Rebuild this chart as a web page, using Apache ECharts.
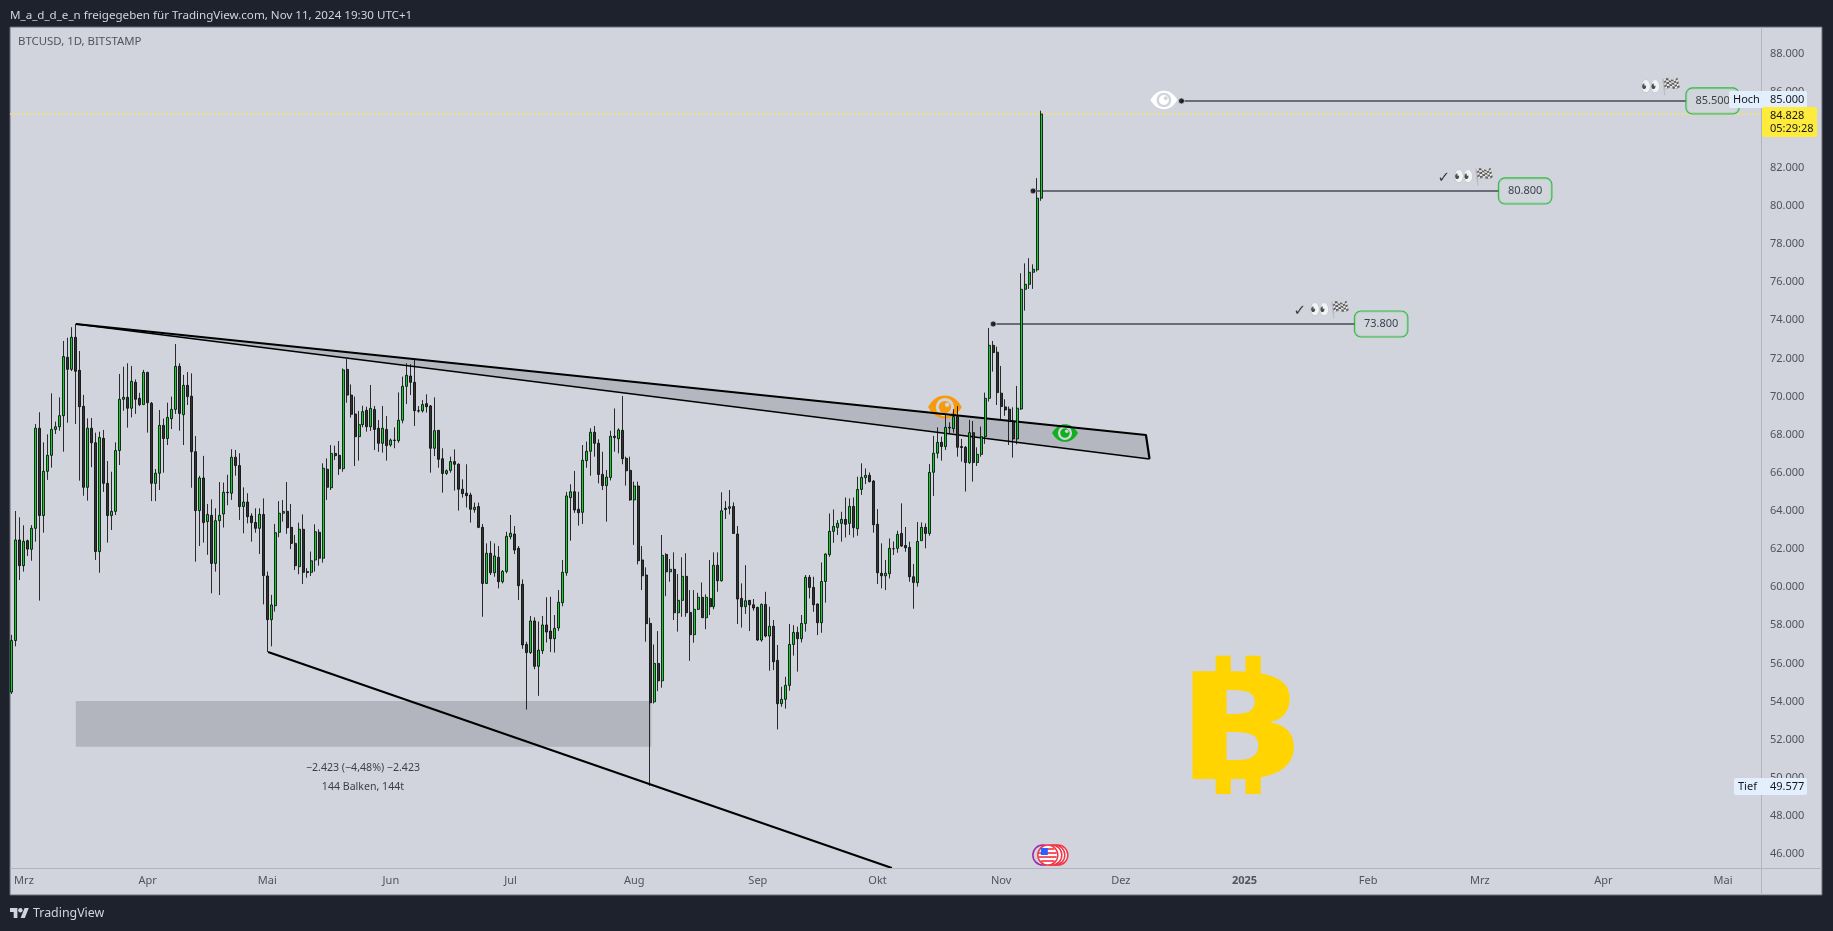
<!DOCTYPE html>
<html><head><meta charset="utf-8">
<style>html,body{margin:0;padding:0;background:#1e222d;overflow:hidden}#c{width:1833px;height:931px}</style>
<script src="https://cdn.jsdelivr.net/npm/echarts@6/dist/echarts.min.js"></script>
</head><body><div id="c"></div>
<script>
// Daily candles, 27 Feb 2024 .. 11 Nov 2024 (USD)
const opens = [54500,57200,62480,61130,62440,61990,63090,68340,63760,66080,66920,68280,68420,69000,72060,71430,73110,71380,69490,65240,68340,67580,61870,67810,65450,63760,63980,67170,69860,69960,69390,70750,69910,69580,
71270,69650,65450,65980,68490,67800,68840,69330,71590,69050,70590,70020,67110,64020,65730,63440,63770,61250,63490,63840,64980,64930,66820,66380,64230,64470,63740,63400,63090,63820,
60590,58300,59030,62880,63880,63980,63140,62300,61080,63040,60820,60780,61430,62880,61520,66190,65220,67020,66920,66220,71430,70080,69090,67900,68530,69280,68420,69330,68340,67550,68280,
67460,67720,67690,68760,70540,71080,70750,69260,69250,69630,69510,67290,68230,66740,65970,66130,66590,66450,65140,64930,64840,64070,64230,63140,60200,61780,60760,61570,60290,60830,
62650,62790,62040,60150,57000,56570,58230,55850,56670,58020,57700,57300,57860,59190,60760,64700,65010,64090,63930,66640,67130,68130,67550,65920,65330,65760,67920,67790,68230,66760,66130,
64580,65310,61430,60640,58100,53990,56000,55090,61720,60810,60940,58660,59310,60570,58680,57510,58840,59470,58400,59410,58980,61150,60340,64140,64140,64240,62790,59410,58980,59310,59080,
58940,57230,59100,57440,57950,56160,53890,54120,54850,57000,57630,57300,58100,60520,59990,59120,58140,60300,61710,62930,63140,63350,63560,63350,64240,63070,65130,65750,65870,65570,
63300,60730,60600,60710,62020,62040,62820,62190,62090,60550,60240,62440,63140,62820,66030,67030,67600,67380,68350,68320,68950,67380,67340,66540,68110,66540,66970,67900,69910,72690,72330,
70180,69460,69340,68690,67780,69350,75630,75890,76520,76650,80410];
const closes = [57200,62480,61130,62410,62000,63090,68340,63760,66080,66920,68280,68420,69000,72100,71430,73110,71330,69470,65240,68340,67580,61870,67860,65450,63760,63980,67170,69860,69960,69390,70800,69860,69580,71270,
69680,65450,65980,68490,67800,68910,69330,71590,69120,70590,70000,67110,64020,65730,63390,63820,61250,63490,63770,64980,64960,66820,66380,64230,64470,63700,63390,63090,63820,60610,
58300,59070,62860,63880,63970,63120,62300,61130,63040,60780,60770,61390,62910,61520,66240,65240,67020,66900,66220,71400,70080,69070,67900,68530,69210,68420,69380,68280,67550,68340,67430,
67720,67700,68760,70540,71120,70750,69260,69240,69580,69470,67290,68210,66710,65970,66110,66590,66450,65140,64910,64800,64090,64190,63140,60200,61780,60760,61640,60290,60830,62670,
62830,61950,60080,56970,56570,58230,55850,56700,58020,57650,57300,57840,59210,60780,64790,65010,64050,63910,66660,67130,68130,67550,65920,65330,65780,67920,67850,68250,66740,66110,64580,
65310,61390,60600,58090,53940,56000,55090,61670,60810,60940,58660,59310,60570,58660,57510,58840,59470,58400,59470,58980,61150,60340,64010,64080,64220,62820,59380,58980,59290,59080,58910,
57230,59100,57440,57950,56090,53890,54120,54850,57000,57630,57300,58100,60520,59990,59080,58140,60300,61740,62930,63190,63350,63560,63300,64240,63120,65130,65760,65870,65540,63280,
60760,60600,60730,62040,62020,62770,62160,62070,60550,60250,62400,63140,62820,66020,67030,67600,67380,68390,68390,68950,67340,67330,66540,68110,66540,66970,67900,69910,72690,72310,70210,
69480,69300,68690,67780,69390,75630,75890,76520,76680,80410,84828];
const lows = [54400,56900,60380,60820,61640,61390,62390,59300,62860,65630,66270,68040,68210,67110,68630,71340,68560,65590,64800,64540,66300,61430,60760,65000,62340,63000,63790,66410,69260,68370,68910,69090,69500,69580,
68110,64520,64520,65100,66010,67460,68300,69090,68210,67460,69560,65220,61340,62160,62340,61700,59680,60820,59590,63130,64300,64580,65850,63530,62830,63350,62390,62860,61740,59100,
56600,56900,58720,62620,63440,62800,62000,60900,60680,60170,60500,60590,60820,61130,61290,64580,65100,66670,65890,66060,69680,68900,66360,66640,68390,68160,68200,67200,67100,67060,66640,
67370,67290,67580,68600,69610,70080,68460,69160,69160,69160,66010,66880,66270,64960,65890,66010,65070,64020,64700,64180,63390,63910,63100,58450,60170,60640,60550,59940,60200,60730,
62510,61740,59330,56770,53580,56500,55700,54300,56500,57100,56600,56570,57700,59000,60600,62440,63900,63230,63320,66270,65850,66850,65450,65100,63440,65600,67110,67020,66450,65330,64540,
62220,61200,59850,57140,49577,53900,54550,54730,59530,60290,58280,57670,58450,58450,56140,57090,58800,58400,57800,58540,58840,59760,60290,63580,63820,62800,58070,57880,58600,57700,58770,
57190,57140,57370,55620,55650,52540,53730,53630,54570,56410,55570,57100,57670,59410,58710,57490,57610,59190,61600,62330,62740,62390,62610,62740,62610,62700,64840,65410,65500,62860,
60170,59940,59850,60460,61690,61810,62120,61860,60290,58870,60030,62440,62040,62700,64790,66760,66640,67200,68080,68110,66850,66590,65020,66470,65540,66360,66850,67520,69740,71310,69560,
68780,68990,67460,66800,67500,69300,74510,75650,75650,76560,80270];
const highs = [57500,64000,63670,63250,62500,63260,68560,69180,67600,68020,70170,68690,69960,72920,73090,73640,73810,72390,70090,68860,68880,68110,68160,68250,66620,66060,67600,71190,71570,71750,71610,70900,70200,71400,
71300,69720,66200,69300,68850,69680,70000,72760,71750,71140,71290,71220,67930,65840,66890,64370,64610,64140,65520,65490,65900,67240,67200,67030,65240,64930,63880,64140,64140,64660,
60820,59600,63320,64520,64580,65520,64370,62740,63390,63820,61000,61870,63300,63040,66500,66760,67460,67430,67670,71480,71970,70640,70000,69250,69520,69470,70610,69510,68770,69510,68980,
67800,68390,70220,71050,71750,71700,71920,69500,69820,70120,69560,69960,68250,67290,66180,66850,67230,66500,65660,66450,64960,64440,64440,63320,62300,62420,62300,62160,60900,62910,
63790,63210,62160,60410,57140,58490,58420,58200,58490,59470,59500,58540,59850,61430,65000,65400,66100,65010,67460,67640,68340,68460,67760,67110,66150,68210,69380,68340,70030,66850,66850,
65540,65540,62160,61040,58400,57000,57700,62740,61780,61480,61830,60690,61570,61780,59850,59850,59710,60250,59620,61430,61830,61830,64980,64520,65100,64450,63210,60200,61160,59330,59380,
58980,59150,59760,58980,58280,56970,54780,55300,58070,58010,57930,58540,60640,60640,60550,59150,61300,61780,63870,64080,63520,63960,64710,64660,64710,65800,66500,66230,66020,65620,
64100,62300,61430,62560,62400,62960,64400,63160,62390,61220,63420,63400,63350,66460,67940,68390,67900,69040,68650,69340,69510,67780,67410,68780,68720,67340,68430,70210,73600,72920,72620,
71610,69860,69480,69440,70560,76470,76990,77260,76940,81460,85000];

// Axis ticks and labels
const startDay = '2024-02-27';
const dayCount = 439;
const priceTicks = [46000,48000,50000,52000,54000,56000,58000,60000,62000,64000,66000,68000,70000,72000,74000,76000,78000,80000,82000,84000,86000,88000];
const monthTicks = {'2024-03-01':'Mrz','2024-04-01':'Apr','2024-05-01':'Mai','2024-06-01':'Jun','2024-07-01':'Jul','2024-08-01':'Aug','2024-09-01':'Sep','2024-10-01':'Okt','2024-11-01':'Nov','2024-12-01':'Dez','2025-01-01':'2025','2025-02-01':'Feb','2025-03-01':'Mrz','2025-04-01':'Apr','2025-05-01':'Mai'};

// Drawings, as [bar index, price]
const wedgeBand = [[16,73810],[284.3,67985],[285.2,66730]];
const wedgeLower = [[16,73810],[285.2,66730]];
const wedgeUpper = [[16,73810],[284.3,67985],[285.2,66730]];
const supportLine = [[64.2,56600],[220.6,45270]];
const measureBox = [[16,54030],[160.3,51630]];
const targets = [
  {label:'85.500', price:85510, from:293.2, to:419.8, marks:'{e|👀}{f|🏁}'},
  {label:'80.800', price:80790, from:256, to:372.8, marks:'{c|✓}{e|👀}{f|🏁}'},
  {label:'73.800', price:73810, from:246, to:336.7, marks:'{c|✓}{e|👀}{f|🏁}'}
];
const eyes = [[288.8,85560,'#ffffff'],[233.9,69450,'#f89a0e'],[264,68090,'#10b01e']];
const lastPrice = 84828;
const btcAnchor = [307,51980];
const measureLabels = [[88,50510,'−2.423 (−4,48%) −2.423'],[88,49520,'144 Balken, 144t']];
const eventAnchor = [259.7,45950];

const categories = [];
{ let d = new Date(startDay+'T00:00:00Z');
  for (let i=0;i<dayCount;i++){ categories.push(d.toISOString().slice(0,10)); d = new Date(d.getTime()+864e5); } }
const candles = opens.map((o,i)=>[o,closes[i],lows[i],highs[i]]);

const PANE='#d1d4dc', DARK='#1e222d', AXIS='#b2b5be', TXT='#50535e', INK='#131722';
const FONT='"Noto Sans", sans-serif';
const EYE='M0 10 C 6 2.5 13 0 20 0 C 27 0 34 2.5 40 10 C 34 17.5 27 20 20 20 C 13 20 6 17.5 0 10 Z';

function eyeItem(params,api){
  const p=api.coord([api.value(0),api.value(1)]);
  const c=eyes[params.dataIndex][2];
  const big=params.dataIndex===1?1.25:1;
  const w=(params.dataIndex===2?26:27)*big,h=w*0.68,[x,y]=p;
  return {type:'group',children:[
    {type:'path',shape:{pathData:EYE,x:x-w/2,y:y-h/2,width:w,height:h,layout:'cover'},style:{fill:c}},
    {type:'circle',shape:{cx:x,cy:y,r:h*0.4},style:{fill:PANE}},
    {type:'circle',shape:{cx:x,cy:y,r:h*0.27},style:{fill:c}},
    {type:'circle',shape:{cx:x+h*0.1,cy:y-h*0.1,r:h*0.1},style:{fill:PANE}}
  ]};
}
function eventItem(params,api){
  const [x,y]=api.coord(eventAnchor);
  const r=10,kids=[];
  kids.push({type:'circle',shape:{cx:x-5,cy:y,r},style:{fill:PANE,stroke:'#9c27b0',lineWidth:1.5}});
  [10,7,4].forEach(dx=>kids.push({type:'circle',shape:{cx:x+dx,cy:y,r},style:{fill:'#ffffff',stroke:'#f23645',lineWidth:1.5}}));
  kids.push({type:'circle',shape:{cx:x,cy:y,r:r},style:{fill:'#ffffff',stroke:'#f23645',lineWidth:1.5}});
  [-6,-2,2,6].forEach(dy=>{const hw=Math.sqrt(Math.max(0,(r-1)*(r-1)-dy*dy));
    kids.push({type:'rect',shape:{x:x-hw,y:y+dy-1,width:hw*2,height:2},style:{fill:'#f7525f'}});});
  kids.push({type:'rect',shape:{x:x-7,y:y-7,width:7,height:7},style:{fill:'#2962ff'}});
  return {type:'group',children:kids};
}
function polyItem(params,api){
  const pts=wedgeBand.map(p=>api.coord(p));
  return {type:'polygon',shape:{points:pts},style:{fill:'#b2b5be',opacity:.95}};
}
function boxItem(params,api){
  const a=api.coord(measureBox[0]),b=api.coord(measureBox[1]);
  return {type:'rect',shape:{x:a[0],y:a[1],width:b[0]-a[0],height:b[1]-a[1]},style:{fill:'#b2b5be'}};
}
function btcItem(params,api){
  const [x,y]=api.coord(btcAnchor);
  return {type:'text',x,y,originX:0,originY:0,scaleX:1.5,scaleY:1.0,
    style:{text:'₿',font:'bold 150px "DejaVu Sans", "Noto Sans", sans-serif',fill:'#ffd400',align:'center',verticalAlign:'middle'}};
}
const oneItem=(name,renderItem,z,clip)=>({type:'custom',name,xAxisIndex:1,yAxisIndex:0,z,clip:!!clip,renderItem,data:[[0,60000]],encode:{x:0,y:1},silent:true,animation:false});

const series=[
  oneItem('Messbereich',boxItem,1,true),
  oneItem('Keil',polyItem,1,true),
  {type:'line',name:'Letzter Kurs',xAxisIndex:1,data:[[-0.5,lastPrice],[438.5,lastPrice]],symbol:'none',z:1,silent:true,lineStyle:{color:'#ffeb3b',width:1.4,type:[1.5,2.5]}},
  {type:'candlestick',name:'BTCUSD',xAxisIndex:0,yAxisIndex:0,data:candles,barWidth:2.5,z:3,
    itemStyle:{color:'#0ed12e',color0:'#333333',borderColor:'#000000',borderColor0:'#000000',borderColorDoji:'#000000',borderWidth:0.8}},
  {type:'line',name:'Keil oben',xAxisIndex:1,data:wedgeUpper,symbol:'none',z:2,silent:true,lineStyle:{color:'#000',width:2.2}},
  {type:'line',name:'Keil unten',xAxisIndex:1,data:wedgeLower,symbol:'none',z:2,silent:true,lineStyle:{color:'#000',width:1.5}},
  {type:'line',name:'Unterstützung',xAxisIndex:1,data:supportLine,symbol:'none',z:2,silent:true,lineStyle:{color:'#000',width:2}},
  {type:'custom',name:'Augen',xAxisIndex:1,z:2,clip:false,renderItem:eyeItem,data:eyes.map(e=>[e[0],e[1]]),encode:{x:0,y:1},silent:true},
  oneItem('Ereignis',eventItem,2,false),
  oneItem('Bitcoin',btcItem,2,false)
];
targets.forEach(t=>{
  series.push({type:'line',name:'Ziel '+t.label,xAxisIndex:1,data:[[t.from,t.price],[t.to,t.price]],symbol:'none',z:2,silent:true,lineStyle:{color:'#6a6d78',width:2}});
  series.push({type:'scatter',name:'Start '+t.label,xAxisIndex:1,data:[[t.from,t.price]],symbol:'circle',symbolSize:6,z:4,silent:true,itemStyle:{color:'#000',borderColor:PANE,borderWidth:1}});
  series.push({type:'scatter',name:'Box '+t.label,xAxisIndex:1,data:[[t.to,t.price]],symbolSize:0,z:5,silent:true,
    label:{show:true,position:'right',distance:0,formatter:t.label,fontFamily:FONT,fontSize:11,color:INK,
      lineHeight:13,padding:[6,9,6,9],borderRadius:6,borderColor:'#0cb41c',borderWidth:1.1,backgroundColor:PANE}});
  series.push({type:'scatter',name:'Marken '+t.label,xAxisIndex:1,data:[[t.to,t.price]],symbolSize:0,z:5,silent:true,
    label:{show:true,position:'left',distance:5,offset:[0,-13],formatter:t.marks,
      rich:{c:{fontFamily:'"DejaVu Sans"',fontSize:15,color:'#111',padding:[0,3,0,0]},
            e:{fontFamily:'"DejaVu Sans"',fontSize:17,color:'#111'},
            f:{fontFamily:'"DejaVu Sans"',fontSize:16,color:'#555'}}}});
});
series.push({type:'scatter',name:'Messung',xAxisIndex:1,data:measureLabels.map(m=>[m[0],m[1]]),symbolSize:0,z:5,silent:true,
  label:{show:true,position:'inside',formatter:p=>measureLabels[p.dataIndex][2],fontFamily:FONT,fontSize:10.6,color:INK,textBorderWidth:0}});

const pill=(x,y,w,h,fill,z)=>({type:'rect',z,silent:true,shape:{x,y,width:w,height:h,r:2},style:{fill}});
const ptext=(x,y,text,fill)=>({type:'text',z:101,silent:true,x,y,style:{text,fill,font:'11px '+FONT,verticalAlign:'middle'}});

const option={
  animation:false,backgroundColor:DARK,
  grid:{left:10,top:27,width:1751,height:841,containLabel:false},
  xAxis:[
    {type:'category',data:categories,boundaryGap:true,axisLine:{show:false},axisTick:{show:false},splitLine:{show:false},
     axisLabel:{show:true,interval:(i,v)=>!!monthTicks[v],formatter:v=>{const t=monthTicks[v]||'';return t==='2025'?'{b|2025}':t;},
       color:TXT,fontFamily:FONT,fontSize:11,margin:7,hideOverlap:false,rich:{b:{fontWeight:'bold',color:TXT,fontFamily:FONT,fontSize:11}}}},
    {type:'value',min:-0.5,max:438.5,show:false,scale:true}
  ],
  yAxis:{type:'value',position:'right',min:45270,max:89390,scale:true,splitLine:{show:false},axisLine:{show:false},axisTick:{show:false},
    axisLabel:{show:true,customValues:priceTicks,formatter:v=>v.toLocaleString('de-DE'),color:TXT,fontFamily:FONT,fontSize:11,margin:9,align:'left'}},
  series,
  graphic:{elements:[
    {type:'rect',z:-10,silent:true,shape:{x:10,y:27,width:1812,height:868},style:{fill:PANE,stroke:'#6a6d78',lineWidth:1}},
    {type:'line',z:50,silent:true,shape:{x1:1761.5,y1:27,x2:1761.5,y2:895},style:{stroke:AXIS,lineWidth:1}},
    {type:'line',z:50,silent:true,shape:{x1:10,y1:868.5,x2:1822,y2:868.5},style:{stroke:AXIS,lineWidth:1}},
    {type:'text',z:100,silent:true,x:10,y:15.5,style:{text:'M_a_d_d_e_n freigegeben für TradingView.com, Nov 11, 2024 19:30 UTC+1',fill:'#d1d4dc',font:'11.6px '+FONT,verticalAlign:'middle'}},
    {type:'text',z:100,silent:true,x:18,y:42,style:{text:'BTCUSD, 1D, BITSTAMP',fill:TXT,font:'11.4px '+FONT,verticalAlign:'middle'}},
    {type:'text',z:100,silent:true,x:33,y:913,style:{text:'TradingView',fill:'#d1d4dc',font:'12.4px '+FONT,verticalAlign:'middle'}},
    {type:'polygon',z:100,silent:true,shape:{points:[[10,908],[17.4,908],[17.4,918],[13.7,918],[13.7,911.9],[10,911.9]]},style:{fill:'#d1d4dc'}},
    {type:'polygon',z:100,silent:true,shape:{points:[[24.8,918],[20.6,918],[24.6,908],[28.8,908]]},style:{fill:'#d1d4dc'}},
    {type:'circle',z:100,silent:true,shape:{cx:20.4,cy:910.2,r:2.2},style:{fill:'#d1d4dc'}},
    pill(1729,91,78,17,'#e3effd',100),
    ptext(1733,100,'Hoch',INK),ptext(1770,100,'85.000',INK),
    pill(1762,107,55,30,'#ffeb3b',100),
    ptext(1770,115.5,'84.828',INK),ptext(1770,129,'05:29:28',INK),
    pill(1734,778,73,17,'#e3effd',100),
    ptext(1738,787,'Tief',INK),ptext(1770,787,'49.577',INK)
  ]}
};
const chart=echarts.init(document.getElementById('c'),null,{renderer:'canvas',width:1833,height:931});
chart.setOption(option);
</script></body></html>
